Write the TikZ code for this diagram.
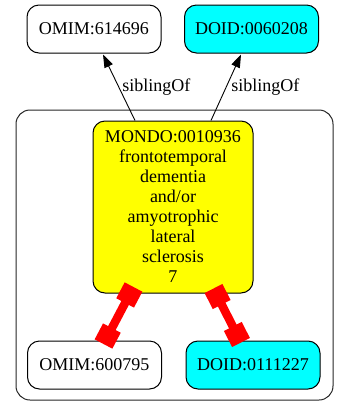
\documentclass[tikz,border=0pt]{standalone}
\usepackage{fontspec}
\setmainfont{Liberation Serif}
\usepackage{xcolor}
\definecolor{xrefcyan}{RGB}{0,255,255}
\definecolor{focusyellow}{RGB}{255,255,0}
\definecolor{linkred}{RGB}{255,0,0}
\usepackage{tikz}
\usetikzlibrary{arrows.meta}
\tikzstyle{box} = [
    rectangle, align=center,
    rounded corners=12pt,
    minimum width=134pt,
    minimum height=48pt,
    draw=black,
    line width=1pt,
    font=\fontsize{18}{20}\selectfont,
]
\tikzstyle{plain} = [
    box,
    fill=white,
]
\tikzstyle{xref} = [
    box,
    fill=xrefcyan,
]
\tikzstyle{focus} = [
    box,
    minimum width=160pt,
    minimum height=172pt,
    fill=focusyellow,
]
\tikzstyle{cluster} = [
    rectangle,
    rounded corners=14pt,
    minimum width=317pt,
    minimum height=290pt,
    draw=black!85,
    line width=1pt,
]
\tikzstyle{edgetext} = [
    right, inner xsep=3pt,
    font=\fontsize{18}{20}\selectfont,
]
\tikzstyle{arrow} = [-{Triangle[length=13pt,width=9pt]}, line width=0.9pt]
\tikzstyle{link} = [
    {Square[length=18pt,width=20pt]}-{Square[length=18pt,width=20pt]},
    draw=linkred,
    line width=8.5pt,
]

\begin{document}
\begin{tikzpicture}[x=1pt,y=1pt]
    \useasboundingbox (0,0) rectangle (348,-416);

    % boxes
    \node (cluster) at (174.5,-255) [cluster] {};
    \node (omim1) at (94,-29) [plain] {OMIM:614696};
    \node (doid1) at (251.5,-29) [xref] {DOID:0060208};
    \node (mondo) at (173,-207) [focus] {MONDO:0010936\\frontotemporal\\dementia\\and/or\\amyotrophic\\lateral\\sclerosis\\7};
    \node (omim2) at (94.5,-365) [plain] {OMIM:600795};
    \node (doid2) at (253,-365) [xref] {DOID:0111227};

    % arrows
    \draw [arrow] ([xshift=-38pt]mondo.north) to node [edgetext] {siblingOf} ([xshift=9pt,yshift=-1pt]omim1.south);
    \draw [arrow] ([xshift=38pt]mondo.north) to node [edgetext, inner xsep=5pt] {siblingOf} ([xshift=-10.5pt,yshift=-1pt]doid1.south);

    \draw [link] ([xshift=-39.5pt,yshift=6.5pt]mondo.south) to ([xshift=9pt,yshift=-3.5pt]omim2.north);
    \draw [link] ([xshift=40.5pt,yshift=5pt]mondo.south) to ([xshift=-12pt,yshift=-2pt]doid2.north);

\end{tikzpicture}
\end{document}
